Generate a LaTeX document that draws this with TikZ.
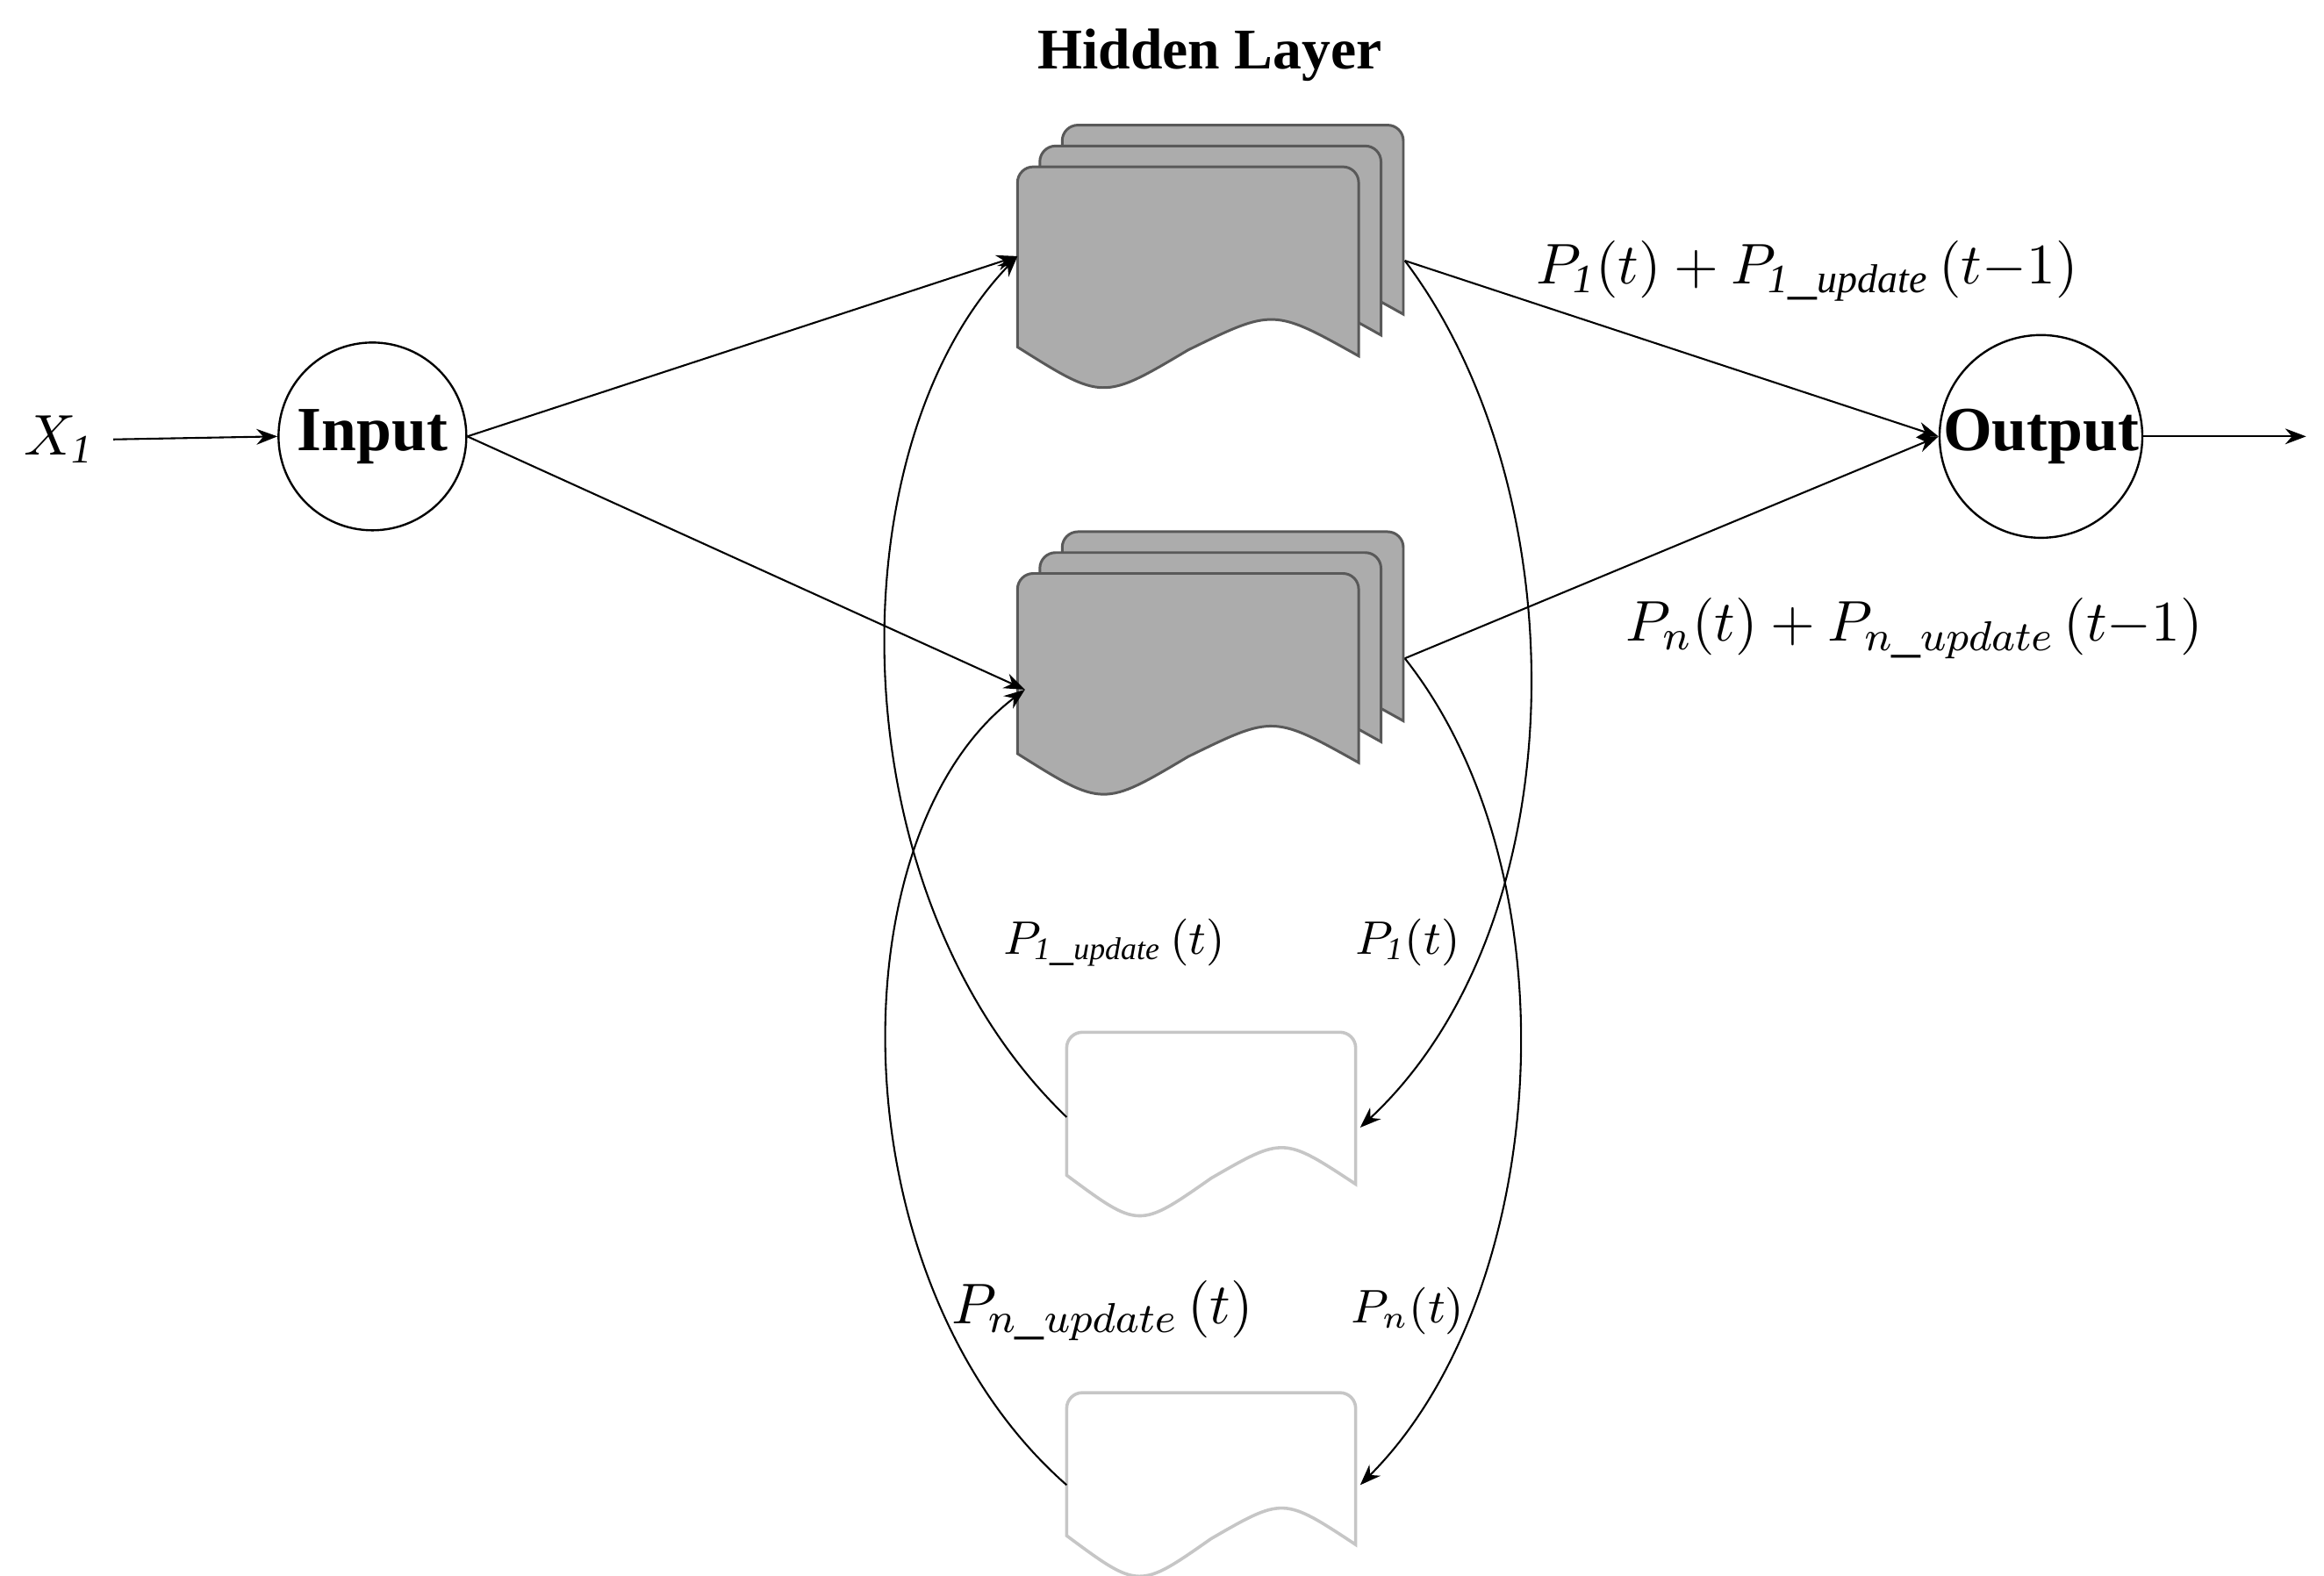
\documentclass[tikz,border=0pt]{standalone}
\usepackage{fontspec}
\setmainfont{Liberation Serif}
\usetikzlibrary{arrows.meta}
\newcommand\mydoc[6]{% name, x0, y0, w, h, style
  \draw[#6] (#2,#3+#5-14) [rounded corners=3pt]-- (#2,#3) -- (#2+#4,#3) [sharp corners]-- (#2+#4,#3+#5-8)
   .. controls (#2+0.75*#4,#3+#5-40) .. (#2+0.5*#4,#3+#5-12)
   .. controls (#2+0.25*#4,#3+#5+22) .. (#2,#3+#5-14) -- cycle;
  \coordinate (#1) at (#2,#3);}
\begin{document}
\begin{tikzpicture}[x=0.01cm,y=-0.01cm,
  circ/.style={draw,circle,minimum size=1.26cm,inner sep=0,line width=0.4pt,font=\bfseries\fontsize{12}{14}\selectfont},
  con/.style={-{Stealth[length=4pt,width=3pt]},line width=0.35pt},
  gdoc/.style={fill=gray!65,draw=gray!70!black,line width=0.5pt},
  wdoc/.style={fill=white,draw=gray!45,line width=0.6pt},
  lab/.style={font=\fontsize{11}{13}\selectfont},
  slab/.style={font=\fontsize{9}{11}\selectfont}]
\useasboundingbox (0,0) rectangle (1560,1058);
\node[lab] (x) at (40,295) {$X_{\mathit{1}}$};
\node[circ] (in) at (250,293) {Input};
\node[circ] (out) at (1370,293) {Output};
\node[font=\bfseries\fontsize{11}{13}\selectfont] (hl) at (812,37) {Hidden Layer};
\foreach \k in {2,1,0}{\mydoc{da\k}{683+15*\k}{112-14*\k}{229}{135}{gdoc}}
\foreach \k in {2,1,0}{\mydoc{db\k}{683+15*\k}{385-14*\k}{229}{135}{gdoc}}
\mydoc{w1}{716}{693}{194}{110}{wdoc}
\mydoc{w2}{716}{935}{194}{110}{wdoc}
\coordinate (a1) at (683,172); \coordinate (a2) at (688,463);
\coordinate (o1) at (943,175); \coordinate (o2) at (943,442);
\coordinate (w1l) at (716,750); \coordinate (w2l) at (716,997);
\coordinate (w1r) at (913,757); \coordinate (w2r) at (913,997);
\coordinate (e) at (1548,293);
\draw[con] (x.east) -- (in.west);
\draw[con] (in.east) -- (a1);
\draw[con] (in.east) -- (a2);
\draw[con] (o1) -- (out.west);
\draw[con] (o2) -- (out.west);
\draw[con] (out.east) -- (e);
\draw[con] (o1) .. controls (1060,330) and (1060,620) .. (w1r);
\draw[con] (o2) .. controls (1060,590) and (1040,870) .. (w2r);
\draw[con] (w1l) .. controls (560,600) and (560,300) .. (a1);
\draw[con] (w2l) .. controls (560,860) and (560,560) .. (a2);
\node[lab] at (1213,182) {$P_{\mathit{1}}(t)+P_{\mathit{1\_update}}\,(t{-}1)$};
\node[lab] at (1285,422) {$P_n(t)+P_{n\_update}\,(t{-}1)$};
\node[slab] at (748,633) {$P_{\mathit{1\_update}}\,(t)$};
\node[slab] at (945,633) {$P_{\mathit{1}}(t)$};
\node[lab] at (740,880) {$P_{n\_update}\,(t)$};
\node[slab] at (945,880) {$P_n(t)$};
\end{tikzpicture}
\end{document}
